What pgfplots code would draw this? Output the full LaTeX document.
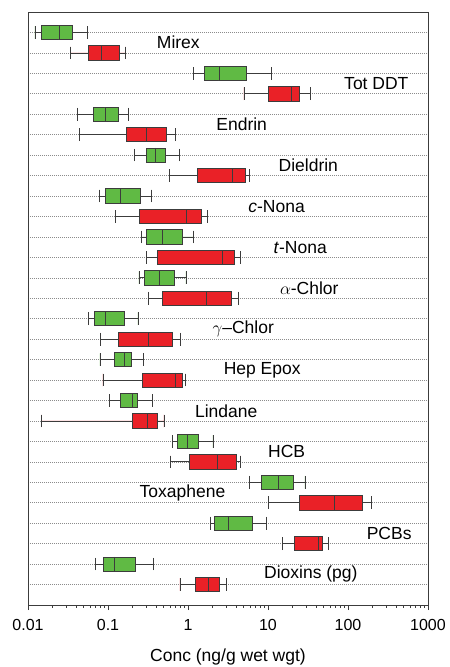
\documentclass[border=0pt]{standalone}
\usepackage{pgfplots}
\pgfplotsset{compat=1.18}
\usepgfplotslibrary{statistics}
\usepackage{fontspec}
\setmainfont{Liberation Sans}

\definecolor{boxgreen}{RGB}{96,186,68}
\definecolor{boxred}{RGB}{234,33,39}
\definecolor{edge}{RGB}{60,60,60}

% one prepared box: colour, row, lower whisker, lower quartile, median, upper quartile, upper whisker
\newcommand\bp[7]{%
  \addplot[draw=edge, fill=#1, line width=0.8pt, solid,
    boxplot/every whisker/.style={draw=edge, line width=0.8pt},
    boxplot/every median/.style={draw=edge, line width=0.9pt},
    boxplot prepared={draw position=#2, lower whisker=#3, lower quartile=#4,
      median=#5, upper quartile=#6, upper whisker=#7,
      box extend=0.7, whisker extend=0.62}]
    coordinates {};}

\begin{document}
\begin{tikzpicture}
\useasboundingbox (-28pt,-62pt) rectangle (422pt,605pt);
\begin{axis}[
    scale only axis, width=400pt, height=593pt,
    xmode=log, xmin=0.01, xmax=1000,
    ymin=0, ymax=29, y dir=reverse,
    xtick={0.01,0.1,1,10,100,1000},
    xticklabels={0.01,0.1,1,10,100,1000},
    xtick pos=bottom, tick align=outside,
    major tick length=5pt, minor tick num=0,
    ytick={1,...,28}, yticklabels={},
    y tick style={draw=none},
    ymajorgrids=true,
    grid style={dash pattern=on 0.7pt off 1.3pt, gray!90, line width=0.6pt},
    axis line style={edge, line width=0.9pt},
    every tick/.style={edge, line width=0.9pt},
    tick label style={font=\fontsize{16}{18}\selectfont},
    xticklabel style={yshift=-6pt},
    xlabel={Conc (ng/g wet wgt)},
    xlabel style={font=\fontsize{17.5}{20}\selectfont, yshift=-11pt},
    clip=false,
  ]
% Mirex
\bp{boxgreen}{1}{0.0122}{0.0148}{0.0244}{0.0362}{0.0552}
\bp{boxred}{2}{0.0341}{0.0568}{0.0834}{0.139}{0.166}
% Tot DDT
\bp{boxgreen}{3}{1.155}{1.62}{2.44}{5.41}{11.1}
\bp{boxred}{4}{5.01}{10.2}{19.6}{24.6}{33.8}
% Endrin
\bp{boxgreen}{5}{0.0414}{0.0649}{0.0917}{0.135}{0.180}
\bp{boxred}{6}{0.0438}{0.168}{0.304}{0.531}{0.702}
% Dieldrin
\bp{boxgreen}{7}{0.215}{0.301}{0.395}{0.516}{0.772}
\bp{boxred}{8}{0.585}{1.31}{3.62}{5.26}{5.79}
% c-Nona
\bp{boxgreen}{9}{0.0787}{0.0935}{0.144}{0.256}{0.352}
\bp{boxred}{10}{0.125}{0.247}{0.944}{1.45}{1.73}
% t-Nona
\bp{boxgreen}{11}{0.264}{0.299}{0.473}{0.857}{1.17}
\bp{boxred}{12}{0.304}{0.41}{2.69}{3.79}{4.51}
% alpha-Chlor
\bp{boxgreen}{13}{0.244}{0.284}{0.443}{0.681}{0.944}
\bp{boxred}{14}{0.322}{0.473}{1.71}{3.48}{4.30}
% gamma-Chlor
\bp{boxgreen}{15}{0.0573}{0.0681}{0.0935}{0.162}{0.237}
\bp{boxred}{16}{0.081}{0.135}{0.316}{0.631}{0.81}
% Hep Epox
\bp{boxgreen}{17}{0.0794}{0.119}{0.16}{0.198}{0.274}
\bp{boxred}{18}{0.0866}{0.271}{0.702}{0.857}{0.927}
% Lindane
\bp{boxgreen}{19}{0.104}{0.144}{0.201}{0.230}{0.355}
\bp{boxred}{20}{0.0148}{0.203}{0.313}{0.418}{0.501}
% HCB
\bp{boxgreen}{21}{0.637}{0.743}{0.99}{1.33}{2.05}
\bp{boxred}{22}{0.601}{1.04}{2.35}{3.98}{4.55}
% Toxaphene
\bp{boxgreen}{23}{5.84}{8.34}{13.5}{20.9}{29.0}
\bp{boxred}{24}{10.2}{24.6}{68.1}{152}{194}
% PCBs
\bp{boxgreen}{25}{1.90}{2.11}{3.19}{6.37}{9.53}
\bp{boxred}{26}{15.2}{21.1}{42.6}{47.3}{56.8}
% Dioxins
\bp{boxgreen}{27}{0.0695}{0.0883}{0.119}{0.22}{0.369}
\bp{boxred}{28}{0.794}{1.24}{1.81}{2.49}{3.04}

\begin{scope}[every node/.style={font=\fontsize{17.5}{20}\selectfont, inner sep=0pt}]
\node at (axis cs:0.757,1.5) {Mirex};
\node at (axis cs:226,3.5) {Tot DDT};
\node at (axis cs:4.69,5.5) {Endrin};
\node at (axis cs:31.9,7.5) {Dieldrin};
\node at (axis cs:12.8,9.5) {\textit{c}-Nona};
\node at (axis cs:25.3,11.5) {\textit{t}-Nona};
\node at (axis cs:32.8,13.5) {$\alpha$-Chlor};
\node at (axis cs:4.91,15.5) {$\gamma$–Chlor};
\node at (axis cs:8.46,17.5) {Hep Epox};
\node at (axis cs:3.0,19.5) {Lindane};
\node at (axis cs:17.1,21.5) {HCB};
\node at (axis cs:0.853,23.5) {Toxaphene};
\node at (axis cs:327,25.5) {PCBs};
\node at (axis cs:34.3,27.5) {Dioxins (pg)};
\end{scope}
\end{axis}
\end{tikzpicture}
\end{document}
